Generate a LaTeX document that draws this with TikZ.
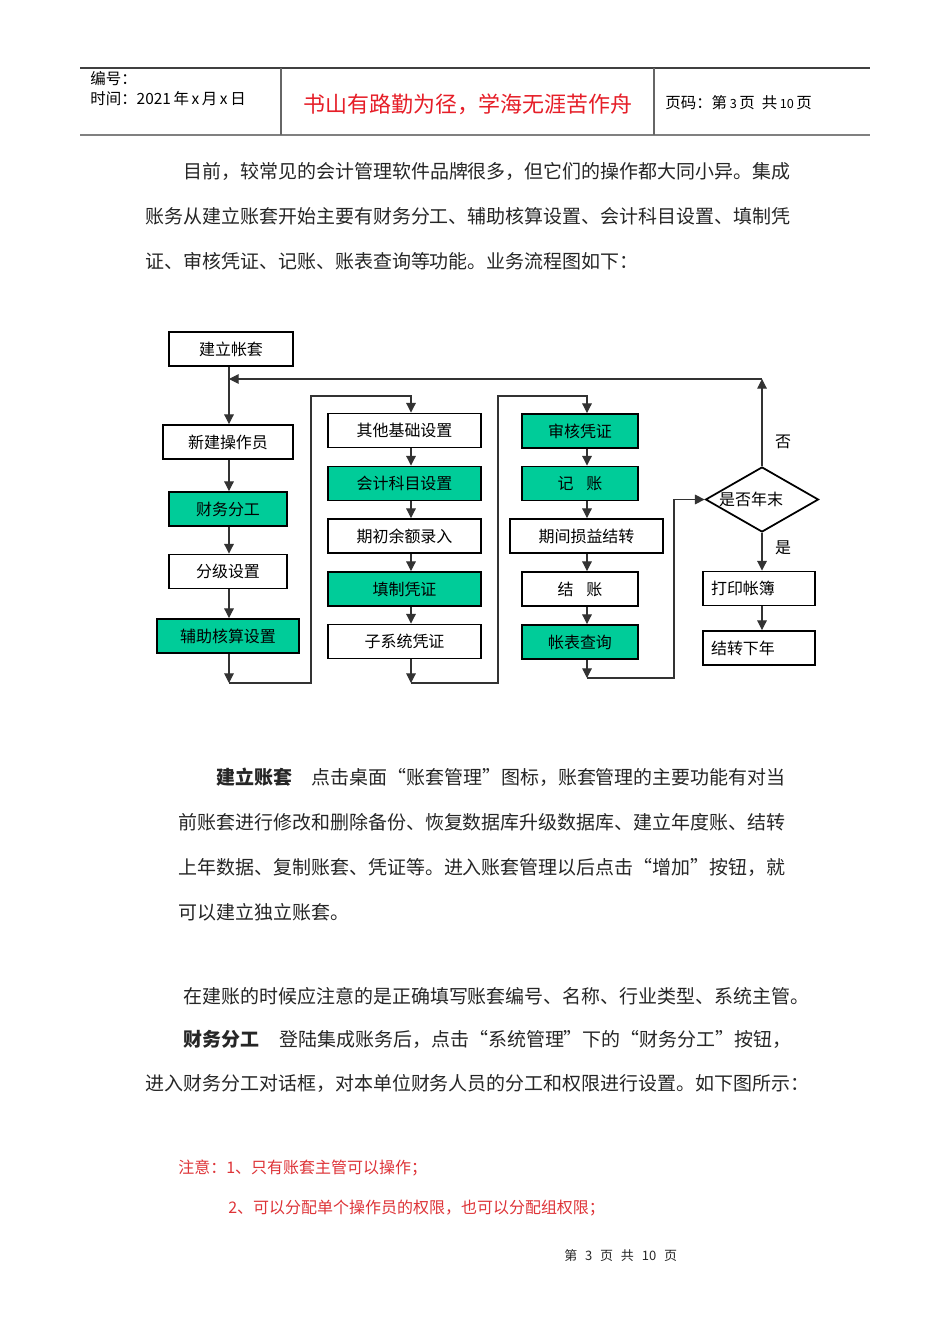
\documentclass[tikz,border=0pt]{standalone}
\usepackage{fontspec}
\setmainfont{Noto Sans CJK SC}
\usetikzlibrary{arrows.meta,shapes.geometric}
\definecolor{sea}{RGB}{0,204,153}
\definecolor{hdred}{RGB}{230,30,40}
\definecolor{notered}{RGB}{222,52,56}
\newcommand\qo{{\addfontfeature{CharacterWidth=Full}“}}
\newcommand\qc{{\addfontfeature{CharacterWidth=Full}”}}
\newcommand\smdig[1]{{\fontsize{7.2pt}{8pt}\selectfont #1}}

\begin{document}
\begin{tikzpicture}[x=0.02cm,y=-0.02cm,
  box/.style={draw,line width=1.1pt,minimum height=0.68cm,inner sep=0pt,
    font=\fontsize{9.1pt}{10pt}\selectfont},
  gbox/.style={box,fill=sea},
  wd/.style={minimum width=#1*0.02cm},
  arr/.style={-{Triangle[length=5.5pt,width=5.5pt]},line width=.6pt,black!80},
  txt/.style={anchor=west,inner sep=0pt,text=black!85,font=\fontsize{10.8pt}{12pt}\selectfont},
  hd/.style={anchor=west,inner sep=0pt,font=\fontsize{8.8pt}{10pt}\selectfont},
  note/.style={anchor=west,inner sep=0pt,text=notered,font=\fontsize{9.1pt}{10pt}\selectfont},
  lbl/.style={inner sep=0pt,font=\fontsize{9.1pt}{10pt}\selectfont}]
  \fill[white] (0,0) rectangle (950,1344);
  \useasboundingbox (0,0) rectangle (950,1344);

  % header
  \draw[black!75,line width=.6pt] (80,68) -- (870,68);
  \draw[black!50,line width=1.2pt] (80,135) -- (870,135);
  \draw[black!60,line width=.6pt] (281,68) -- (281,135) (654,68) -- (654,135);
  \node[hd] (num) at (90,79) {编号：};
  \node[hd] (date) at (90,99) {时间：2021\,年\,x\,月\,x\,日};
  \node[inner sep=0pt,text=hdred,font=\fontsize{12.5pt}{14pt}\selectfont] (motto) at (468,104)
    {书山有路勤为径，学海无涯苦作舟};
  \node[hd] (pageno) at (665,103) {页码：第\,\smdig{3}\,页\ \ 共\,\smdig{10}\,页};

  % opening text
  \node[txt] (p1a) at (183,171) {目前，较常见的会计管理软件品牌很多，但它们的操作都大同小异。集成};
  \node[txt] (p1b) at (145,216) {账务从建立账套开始主要有财务分工、辅助核算设置、会计科目设置、填制凭};
  \node[txt] (p1c) at (145,261) {证、审核凭证、记账、账表查询等功能。业务流程图如下：};

  % flow chart
  \coordinate (c1) at (229,0);
  \coordinate (c2) at (411,0);
  \coordinate (c3) at (587,0);
  \node[box,wd=124] (setup) at (231,349) {建立帐套};
  \node[box,wd=130] (newop) at (228,442) {新建操作员};
  \node[gbox,wd=118] (divide) at (228,509) {财务分工};
  \node[box,wd=118] (grade) at (228,571.5) {分级设置};
  \node[gbox,wd=142] (aux) at (228,636) {辅助核算设置};

  \node[box,wd=153] (other) at (404.5,430.5) {其他基础设置};
  \node[gbox,wd=153] (acct) at (404.5,483.5) {会计科目设置};
  \node[box,wd=153] (open) at (404.5,536) {期初余额录入};
  \node[gbox,wd=153] (voucher) at (404.5,589) {填制凭证};
  \node[box,wd=153] (subsys) at (404.5,641.5) {子系统凭证};

  \node[gbox,wd=116] (audit) at (580,431) {审核凭证};
  \node[gbox,wd=116] (post) at (580,483.5) {记\hspace{.8em}账};
  \node[box,wd=153] (pl) at (586.5,536) {期间损益结转};
  \node[box,wd=116] (close) at (580,589) {结\hspace{.8em}账};
  \node[gbox,wd=116] (query) at (580,642) {帐表查询};

  \node[diamond,draw,line width=1pt,minimum width=113*0.02cm,minimum height=65*0.02cm,
    inner sep=0pt,label={[lbl,xshift=-0.22cm]center:是否年末}] (isend) at (762,499.5) {};
  \node[box,wd=112,text width=1.92cm,align=left] (print) at (759,588.5) {打印帐簿};
  \node[box,wd=112,text width=1.92cm,align=left] (next) at (759,648) {结转下年};
  \node[lbl] (no) at (783,442) {否};
  \node[lbl] (yes) at (783,548) {是};

  \coordinate (join) at (229,379);
  \coordinate (top) at (762,379);
  \coordinate (b1) at (229,683);
  \coordinate (r1) at (311,396);
  \coordinate (b2) at (411,683);
  \coordinate (r2) at (498,396);
  \coordinate (b3) at (587,678);
  \coordinate (r3) at (674,502);

  \draw[arr] (setup.south -| c1) -- (newop.north -| c1);
  \foreach \a/\b/\c in {newop/divide/c1, divide/grade/c1, grade/aux/c1,
      other/acct/c2, acct/open/c2, open/voucher/c2, voucher/subsys/c2,
      audit/post/c3, post/pl/c3, pl/close/c3, close/query/c3}
    \draw[arr] (\a.south -| \c) -- (\b.north -| \c);
  \draw[arr] (aux.south -| c1) -- (b1);
  \draw[arr] (b1) -| (r1) -- (r1 -| c2) -- (other.north -| c2);
  \draw[arr] (subsys.south -| c2) -- (b2);
  \draw[arr] (b2) -| (r2) -- (r2 -| c3) -- (audit.north -| c3);
  \draw[arr] (query.south -| c3) -- (b3);
  \draw[arr] (b3) -| (r3) |- (isend.west);
  \draw[arr] (isend.north) -- (top);
  \draw[arr] (top) -- (join);
  \draw[arr] (isend.south) -- (print.north -| isend);
  \draw[arr] (print.south -| isend) -- (next.north -| isend);

  % text below
  \node[txt,font=\fontsize{10.8pt}{12pt}\selectfont\bfseries] (t1) at (216,777) {建立账套};
  \node[txt] (t1a) at (311,777) {点击桌面\qo 账套管理\qc 图标，账套管理的主要功能有对当};
  \node[txt] (t1b) at (178,822) {前账套进行修改和删除备份、恢复数据库升级数据库、建立年度账、结转};
  \node[txt] (t1c) at (178,867) {上年数据、复制账套、凭证等。进入账套管理以后点击\qo 增加\qc 按钮，就};
  \node[txt] (t1d) at (178,912) {可以建立独立账套。};
  \node[txt] (t2) at (183,996) {在建账的时候应注意的是正确填写账套编号、名称、行业类型、系统主管。};
  \node[txt,font=\fontsize{10.8pt}{12pt}\selectfont\bfseries] (t3) at (183,1039) {财务分工};
  \node[txt] (t3a) at (279,1039) {登陆集成账务后，点击\qo 系统管理\qc 下的\qo 财务分工\qc 按钮，};
  \node[txt] (t3b) at (145,1083) {进入财务分工对话框，对本单位财务人员的分工和权限进行设置。如下图所示：};
  \node[note] (n1) at (178,1168) {注意：1、只有账套主管可以操作；};
  \node[note] (n2) at (228,1208) {2、可以分配单个操作员的权限，也可以分配组权限；};
  \node[anchor=west,inner sep=0pt,text=black!85,font=\fontsize{7.4pt}{8pt}\selectfont] (foot)
    at (564,1256) {第\hspace{.6em}3\hspace{.6em}页\hspace{.6em}共\hspace{.6em}10\hspace{.6em}页};
\end{tikzpicture}
\end{document}
